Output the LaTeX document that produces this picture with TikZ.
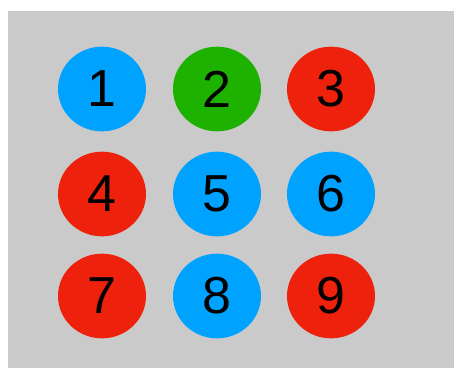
\documentclass[tikz,border=0pt]{standalone}
\usepackage{fontspec}
\setmainfont{Liberation Sans}
\usetikzlibrary{shapes.geometric}

\definecolor{panelgray}{RGB}{202,202,202}
\definecolor{dotblue}{RGB}{0,162,255}
\definecolor{dotgreen}{RGB}{29,177,0}
\definecolor{dotred}{RGB}{238,34,12}

\tikzset{
    dot/.style={ellipse, inner sep=0pt, minimum width=66pt, minimum height=63.5pt,
        font=\fontsize{39}{39}\selectfont, text=black}
}

\begin{document}
\begin{tikzpicture}[
    x=0.75pt,
    y=-0.75pt
]

% Frame
\useasboundingbox (0,0) rectangle (454,368);
\fill[panelgray] (8,11) rectangle (454,368);

% Dots: x, y, colour, label
\foreach \x/\y/\c/\n in {
    102/89/dotblue/1,
    217/89/dotgreen/2,
    331/89/dotred/3,
    102/194/dotred/4,
    217/194/dotblue/5,
    331/194/dotblue/6,
    102/296/dotred/7,
    217/296/dotblue/8,
    331/296/dotred/9
} {
    \node[dot, fill=\c] (n\n) at (\x,\y) {\n};
}

\end{tikzpicture}
\end{document}
